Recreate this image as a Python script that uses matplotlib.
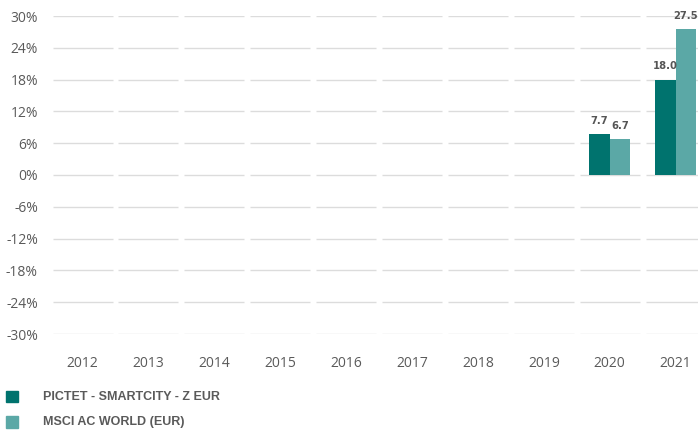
import numpy as np
import matplotlib.pyplot as plt
from matplotlib.patches import Rectangle

years = ['2012', '2013', '2014', '2015', '2016', '2017', '2018', '2019', '2020', '2021']
fund = [np.nan] * 8 + [7.7, 18.0]
index = [np.nan] * 8 + [6.7, 27.5]
yticks = [30, 24, 18, 12, 6, 0, -6, -12, -18, -24, -30]
names = ['PICTET - SMARTCITY - Z EUR', 'MSCI AC WORLD (EUR)']
colors = ['#00736e', '#5ba8a6']

fig = plt.figure(figsize=(6.98, 4.30), dpi=100)
ax = fig.add_axes([49.6 / 698, 1 - 334 / 430, 659 / 698, 318 / 430])

x = np.arange(len(years))
w = 0.31
ax.set_xlim(-0.5, len(years) - 0.5)
ax.set_ylim(-30, 30)

# gridlines, one segment per category
for yt in yticks:
    ax.hlines(np.full(len(x), yt), x - 0.455, x + 0.455, color='#dcdcdc', lw=1.0, zorder=0)

ax.bar(x - w / 2, fund, w, color=colors[0], zorder=2)
ax.bar(x + w / 2, index, w, color=colors[1], zorder=2)

for xi, v in zip(x, fund):
    if not np.isnan(v):
        ax.text(xi - w / 2, v + 1.6, f'{v:.1f}', ha='center', va='bottom',
                fontsize=7.2, fontweight='bold', color='#555555')
for xi, v in zip(x, index):
    if not np.isnan(v):
        ax.text(xi + w / 2, v + 1.6, f'{v:.1f}', ha='center', va='bottom',
                fontsize=7.2, fontweight='bold', color='#555555')

ax.set_yticks(yticks)
ax.set_yticklabels([f'{t}%' for t in yticks], fontsize=10, color='#5a5a5a',
                   family='Open Sans')
ax.set_xticks(x)
ax.set_xticklabels(years, fontsize=10, color='#5a5a5a', family='Open Sans')
ax.tick_params(length=0)
ax.tick_params(axis='y', pad=8.4)
ax.tick_params(axis='x', pad=16)
for s in ax.spines.values():
    s.set_visible(False)

# legend
for i, (n, c) in enumerate(zip(names, colors)):
    yc = 1 - (396.5 + i * 25.5) / 430
    fig.patches.append(Rectangle((6 / 698, yc - 5.5 / 430), 11.5 / 698, 11.5 / 430,
                                 transform=fig.transFigure, color=c))
    fig.text(43 / 698, yc, n, va='center', ha='left', fontsize=9,
             fontweight='bold', color='#5a5a5a', family='Liberation Sans')

fig.savefig('out.png', dpi=100)
